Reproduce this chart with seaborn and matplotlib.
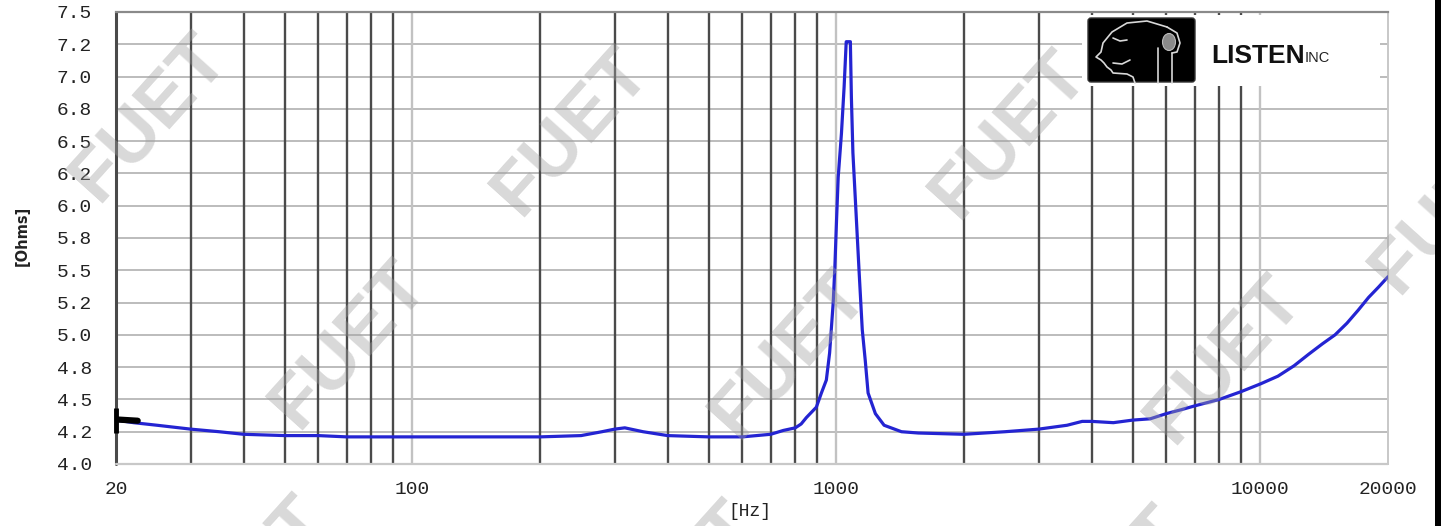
"""Voice-coil impedance sweep, redrawn in the style of a LISTEN SoundCheck plot."""
import matplotlib

matplotlib.use("Agg")
import matplotlib.pyplot as plt
import numpy as np
import pandas as pd
import seaborn as sns
from matplotlib.patches import Ellipse, FancyBboxPatch, Rectangle
from matplotlib.ticker import FormatStrFormatter, NullLocator

# --------------------------------------------------------------------------- #
# Data
# --------------------------------------------------------------------------- #
freq_hz = [20, 21, 22, 25, 30, 35, 40, 50, 60, 70,
           80, 100, 150, 200, 250, 280, 300, 317, 350, 400,
           500, 600, 700, 750, 800, 826, 850, 897, 922, 947,
           964, 983, 992, 1001, 1010, 1028, 1043, 1055, 1067, 1079,
           1085, 1094, 1113, 1131, 1151, 1170, 1188, 1236, 1296, 1424,
           1560, 2000, 2500, 3000, 3500, 3800, 4000, 4500, 5000, 5500,
           6000, 6500, 7000, 8000, 9000, 10000, 11000, 12000, 13000, 14000,
           15000, 16000, 17000, 18000, 19000, 20000]
impedance_ohms = [4.34, 4.33, 4.32, 4.30, 4.27, 4.25, 4.23, 4.22, 4.22, 4.21,
                  4.21, 4.21, 4.21, 4.21, 4.22, 4.25, 4.27, 4.28, 4.25, 4.22,
                  4.21, 4.21, 4.23, 4.26, 4.28, 4.31, 4.36, 4.44, 4.55, 4.65,
                  4.86, 5.25, 5.53, 5.89, 6.22, 6.56, 6.92, 7.27, 7.27, 7.27,
                  6.84, 6.41, 5.94, 5.50, 5.04, 4.80, 4.55, 4.39, 4.30, 4.25,
                  4.24, 4.23, 4.25, 4.27, 4.30, 4.33, 4.33, 4.32, 4.34, 4.35,
                  4.39, 4.42, 4.45, 4.50, 4.56, 4.62, 4.68, 4.76, 4.85, 4.93,
                  5.00, 5.09, 5.19, 5.29, 5.37, 5.45]

# black cursor glyph at the start of the sweep
cursor_freq = [20, 22.5]
cursor_ohms = [4.345, 4.335]
cursor_bar_ohms = [4.24, 4.43]

ohm_ticks = [4.0, 4.25, 4.5, 4.75, 5.0, 5.25, 5.5, 5.75,
             6.0, 6.25, 6.5, 6.75, 7.0, 7.25, 7.5]
hz_ticks = [20, 100, 1000, 10000, 20000]
hz_minor_grid = [30, 40, 50, 60, 70, 80, 90,
                 200, 300, 400, 500, 600, 700, 800, 900,
                 2000, 3000, 4000, 5000, 6000, 7000, 8000, 9000]
hz_decade_grid = [100, 1000, 10000]

watermark_xy = [(150, 118), (572, 132), (1010, 135), (1450, 210),
                (350, 345), (790, 355), (1225, 360),
                (250, 580), (680, 585), (1110, 590)]

df = pd.DataFrame({"freq_hz": freq_hz, "ohms": impedance_ohms})

# --------------------------------------------------------------------------- #
# Style
# --------------------------------------------------------------------------- #
sns.set_style("white")
plt.rcParams["font.family"] = ["Liberation Mono", "DejaVu Sans Mono"]

W, H = 1441, 526
DARK = "#4a4a4a"
LIGHT = "#c2c2c2"
BLUE = "#2424d2"

fig = plt.figure(figsize=(W / 100, H / 100), dpi=100)
ax = fig.add_axes([116 / W, (H - 464) / H, 1272 / W, 452 / H])
ax.set_xscale("log")

# grid drawn by hand: dark 2..9 lines, light decade lines
ax.hlines(ohm_ticks, 20, 20000, colors="#b6b6b6", linewidth=1.3, zorder=1)
ax.vlines(hz_minor_grid, 4.0, 7.5, colors=DARK, linewidth=1.7, zorder=1.5)
ax.vlines(hz_decade_grid, 4.0, 7.5, colors=LIGHT, linewidth=1.7, zorder=1.5)
ax.axvline(20, color=DARK, linewidth=2.2, clip_on=False, zorder=1.6)
ax.axhline(4.0, color="#c8c8c8", linewidth=1.6, clip_on=False, zorder=1.6)

sns.lineplot(data=df, x="freq_hz", y="ohms", ax=ax, color=BLUE,
             linewidth=2.3, zorder=4)
sns.lineplot(x=cursor_freq, y=cursor_ohms, ax=ax, color="black",
             linewidth=4.5, zorder=5)
ax.vlines(cursor_freq[0], *cursor_bar_ohms, colors="black", linewidth=3.5,
          zorder=5, clip_on=False)

ax.set_xlim(20, 20000)
ax.set_ylim(4.0, 7.5)
ax.set_xlabel("")
ax.set_ylabel("")

ax.set_yticks(ohm_ticks)
ax.yaxis.set_major_formatter(FormatStrFormatter("%.1f"))
ax.set_xticks(hz_ticks, labels=[str(v) for v in hz_ticks])
ax.xaxis.set_minor_locator(NullLocator())
ax.tick_params(axis="y", direction="out", length=8.6, width=1.3,
               color="#5a5a5a", pad=5.5, labelsize=14, labelcolor="#222222")
ax.tick_params(axis="x", direction="out", length=4.5, width=1.5,
               color="#333333", pad=4.5, labelsize=14, labelcolor="#222222")

for side in ("left", "bottom"):
    ax.spines[side].set_position(("outward", 3))
    ax.spines[side].set_visible(False)
ax.spines["top"].set_color("#8a8a8a")
ax.spines["top"].set_linewidth(1.6)
ax.spines["right"].set_color("#c8c8c8")
ax.spines["right"].set_linewidth(1.4)

fig.text(22 / W, 1 - 236 / H, "[Ohms]", rotation=90, ha="center",
         va="center", fontsize=10.5, fontweight="bold",
         family=["DejaVu Sans"], color="#222222")
fig.text(750 / W, 1 - 511 / H, "[Hz]", ha="center", va="center",
         fontsize=13, color="#222222")

# --------------------------------------------------------------------------- #
# LISTEN inc logo (drawn in figure-pixel coordinates)
# --------------------------------------------------------------------------- #
logo = fig.add_axes([1082 / W, 1 - 86 / H, 298 / W, 71 / H])
logo.set_zorder(3)
logo.set_xlim(1082, 1380)
logo.set_ylim(86, 15)
logo.axis("off")
logo.add_patch(Rectangle((1082, 15), 298, 71, color="white", zorder=0))
logo.add_patch(FancyBboxPatch((1088, 18), 107, 64,
                              boxstyle="round,pad=0,rounding_size=3",
                              facecolor="black", edgecolor="#333333", zorder=1))
head = dict(color="#d8d8d8", linewidth=1.2, solid_capstyle="round", zorder=2)
logo.plot([1167, 1147, 1127, 1112, 1103, 1101, 1096, 1101, 1104, 1107, 1111,
           1113, 1127, 1133, 1135],
          [27, 21, 23, 32, 43, 52, 57, 60, 63, 67, 70, 73, 74, 77, 83], **head)
logo.plot([1113, 1120, 1127], [38, 41, 40], **head)
logo.plot([1113, 1122, 1130], [63, 64, 60], **head)
logo.plot([1167, 1177, 1180, 1177, 1172], [27, 33, 43, 52, 53], **head)
logo.plot([1158, 1158], [48, 83], **head)
logo.plot([1172, 1172], [53, 83], **head)
logo.add_patch(Ellipse((1169, 42), 13, 17, facecolor="#8a8a8a",
                       edgecolor="#bbbbbb", linewidth=0.8, zorder=2))
logo.text(1211, 63, "LISTEN", fontsize=19, fontweight="bold",
          family=["Liberation Sans", "DejaVu Sans"], color="#111111",
          ha="left", va="baseline", zorder=3)
logo.text(1305, 62, "INC", fontsize=10.5,
          family=["Liberation Sans", "DejaVu Sans"], color="#222222",
          ha="left", va="baseline", zorder=3)

# black frame strip at the right edge of the screenshot
fig.patches.append(Rectangle((1435 / W, 0), 6 / W, 1, transform=fig.transFigure,
                             facecolor="black", edgecolor="none", zorder=20))

# FUET watermark
for wx, wy in watermark_xy:
    fig.text(wx / W, 1 - wy / H, "FUET", rotation=48, rotation_mode="anchor",
             ha="center", va="center", fontsize=54, fontweight="bold",
             family=["Liberation Sans", "DejaVu Sans"], color="#a0a0a0",
             alpha=0.4, zorder=10)

fig.savefig("out.png", dpi=100)
plt.close(fig)
